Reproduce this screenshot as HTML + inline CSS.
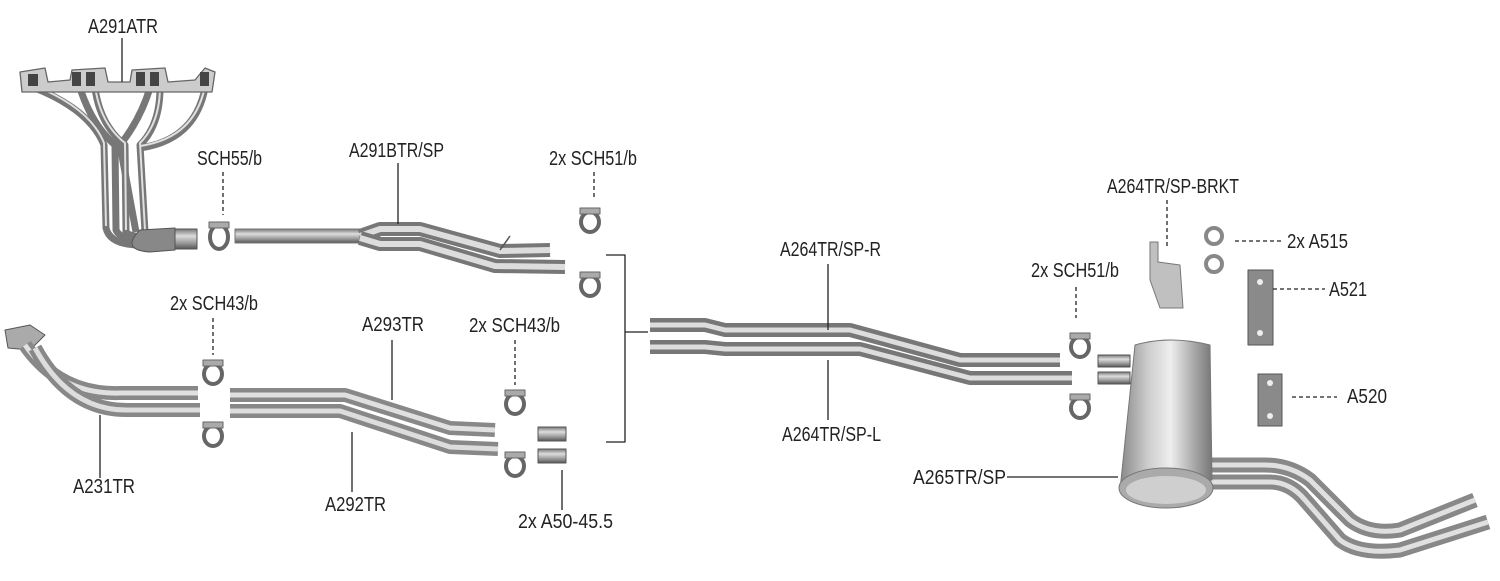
<!DOCTYPE html>
<html><head><meta charset="utf-8"><style>
html,body{margin:0;padding:0;background:#fff;}
svg{display:block;}
text{font-family:"Liberation Sans Narrow","Liberation Sans",sans-serif;font-size:20px;fill:#222;}
</style></head><body>
<svg width="1500" height="581" viewBox="0 0 1500 581" xmlns="http://www.w3.org/2000/svg">
<defs>
<linearGradient id="pv" x1="0" y1="0" x2="0" y2="1">
<stop offset="0" stop-color="#777"/><stop offset="0.35" stop-color="#ddd"/><stop offset="0.7" stop-color="#999"/><stop offset="1" stop-color="#555"/></linearGradient>
<linearGradient id="mh" x1="0" y1="0" x2="1" y2="0">
<stop offset="0" stop-color="#888"/><stop offset="0.3" stop-color="#ccc"/><stop offset="0.55" stop-color="#eee"/><stop offset="0.8" stop-color="#aaa"/><stop offset="1" stop-color="#777"/></linearGradient>
</defs>
<g fill="none" stroke-linecap="butt" stroke-linejoin="round">
<!-- header -->
<g stroke="#777" stroke-width="7">
<path d="M35 88 Q90 110 104 145 L106 228 Q110 245 140 245"/>
<path d="M80 88 Q92 125 115 145 L116 230 Q120 240 145 240"/>
<path d="M95 88 Q100 125 125 145 L126 232 Q130 238 150 236"/>
<path d="M150 88 Q140 120 120 145 L136 232"/>
<path d="M160 88 Q160 125 140 145 L145 232"/>
<path d="M205 88 Q195 140 140 148"/>
</g>
<g stroke="#e0e0e0" stroke-width="2">
<path d="M35 86 Q90 108 104 143 L106 226"/>
<path d="M95 86 Q100 123 125 143 L126 230"/>
<path d="M205 86 Q195 138 140 146"/>
<path d="M160 86 Q160 123 140 143 L145 230"/>
</g>
<path d="M20 72 L45 68 L48 82 L70 80 L72 70 L105 68 L108 82 L130 82 L132 70 L165 68 L168 82 L195 80 L205 68 L215 72 L212 92 L22 92 Z" fill="#ccc" stroke="#666" stroke-width="1.3"/>
<g fill="#444" stroke="none"><rect x="28" y="74" width="10" height="12"/><rect x="72" y="72" width="9" height="14"/><rect x="86" y="72" width="9" height="14"/><rect x="136" y="72" width="9" height="14"/><rect x="150" y="72" width="9" height="14"/><rect x="200" y="72" width="9" height="14"/></g>
<path d="M140 230 Q120 250 150 252 L175 250 L175 228 Z" fill="#888" stroke="#555"/>
<rect x="175" y="229" width="22" height="20" fill="url(#pv)" stroke="#555"/>
<!-- A291BTR pipe -->
<rect x="235" y="229" width="125" height="14" fill="url(#pv)" stroke="#777"/>
<path d="M360 236 L380 229 L420 229 L500 251 L550 250" stroke="#777" stroke-width="14"/>
<path d="M360 236 L380 229 L420 229 L500 251 L550 250" stroke="#ddd" stroke-width="6"/>
<path d="M360 238 L380 244 L420 244 L495 266 L565 267" stroke="#777" stroke-width="14"/>
<path d="M360 238 L380 244 L420 244 L495 266 L565 267" stroke="#ddd" stroke-width="6"/>
<path d="M500 250 L510 236" stroke="#555" stroke-width="1.5"/>
<!-- downpipe A231TR -->
<path d="M5 330 L30 325 L45 335 L30 350 L8 348 Z" fill="#aaa" stroke="#555"/>
<path d="M25 345 Q60 395 120 393 L198 393" stroke="#888" stroke-width="14"/>
<path d="M25 345 Q60 395 120 393 L198 393" stroke="#e0e0e0" stroke-width="5"/>
<path d="M35 348 Q70 412 130 410 L200 410" stroke="#888" stroke-width="14"/>
<path d="M35 348 Q70 412 130 410 L200 410" stroke="#ddd" stroke-width="5"/>
<!-- A293/A292 -->
<path d="M230 395 L345 395 L450 428 L495 430" stroke="#888" stroke-width="14"/>
<path d="M230 395 L345 395 L450 428 L495 430" stroke="#e0e0e0" stroke-width="5"/>
<path d="M230 411 L340 411 L450 447 L498 449" stroke="#888" stroke-width="14"/>
<path d="M230 411 L340 411 L450 447 L498 449" stroke="#ddd" stroke-width="5"/>
<!-- sleeves -->
<rect x="538" y="427" width="28" height="14" fill="url(#pv)" stroke="#555"/>
<rect x="538" y="449" width="28" height="14" fill="url(#pv)" stroke="#555"/>
<!-- center pipes -->
<path d="M650 325 L705 325 L725 330 L850 330 L960 360 L1060 360" stroke="#777" stroke-width="14"/>
<path d="M650 325 L705 325 L725 330 L850 330 L960 360 L1060 360" stroke="#ddd" stroke-width="5"/>
<path d="M650 347 L705 347 L725 349 L860 349 L970 378 L1072 378" stroke="#777" stroke-width="14"/>
<path d="M650 347 L705 347 L725 349 L860 349 L970 378 L1072 378" stroke="#ddd" stroke-width="5"/>
<!-- muffler -->
<rect x="1098" y="355" width="32" height="12" fill="url(#pv)" stroke="#555"/>
<rect x="1098" y="372" width="32" height="12" fill="url(#pv)" stroke="#555"/>
<path d="M1210 465 L1265 465 Q1290 465 1310 480 L1350 520 Q1370 535 1400 530 L1475 500" stroke="#888" stroke-width="15"/>
<path d="M1210 465 L1265 465 Q1290 465 1310 480 L1350 520 Q1370 535 1400 530 L1475 500" stroke="#e0e0e0" stroke-width="5"/>
<path d="M1210 482 L1270 482 Q1290 482 1305 500 L1340 540 Q1360 555 1400 550 L1488 522" stroke="#888" stroke-width="15"/>
<path d="M1210 482 L1270 482 Q1290 482 1305 500 L1340 540 Q1360 555 1400 550 L1488 522" stroke="#e0e0e0" stroke-width="5"/>
<path d="M1135 345 Q1170 335 1210 345 L1212 480 L1120 490 Z" fill="url(#mh)" stroke="#777"/>
<ellipse cx="1166" cy="488" rx="47" ry="20" fill="#aaa" stroke="#777"/>
<ellipse cx="1166" cy="490" rx="40" ry="14" fill="#cfcfcf"/>
<!-- clamps -->
<g stroke="#666" stroke-width="4" fill="#fff">
<ellipse cx="219" cy="237" rx="9" ry="12"/>
<ellipse cx="590" cy="222" rx="9" ry="10"/>
<ellipse cx="590" cy="286" rx="9" ry="10"/>
<ellipse cx="213" cy="374" rx="9" ry="10"/>
<ellipse cx="213" cy="436" rx="9" ry="10"/>
<ellipse cx="515" cy="404" rx="9" ry="10"/>
<ellipse cx="515" cy="466" rx="9" ry="10"/>
<ellipse cx="1080" cy="347" rx="9" ry="10"/>
<ellipse cx="1080" cy="408" rx="9" ry="10"/>
</g>
<g fill="#aaa" stroke="#666">
<rect x="209" y="222" width="20" height="6"/><rect x="580" y="208" width="20" height="6"/><rect x="580" y="272" width="20" height="6"/>
<rect x="203" y="360" width="20" height="6"/><rect x="203" y="422" width="20" height="6"/><rect x="505" y="390" width="20" height="6"/>
<rect x="505" y="452" width="20" height="6"/><rect x="1070" y="333" width="20" height="6"/><rect x="1070" y="394" width="20" height="6"/>
</g>
<!-- brackets -->
<path d="M1150 242 L1158 242 L1158 262 L1180 265 L1183 308 L1160 308 L1150 280 Z" fill="#c0c0c0" stroke="#777"/>
<g stroke="#888" stroke-width="4" fill="#fff"><ellipse cx="1214" cy="236" rx="8" ry="8"/><ellipse cx="1214" cy="264" rx="8" ry="8"/></g>
<rect x="1248" y="270" width="25" height="75" fill="#8a8a8a" stroke="#555"/>
<rect x="1258" y="374" width="24" height="52" fill="#8a8a8a" stroke="#555"/>
<g fill="#eee" stroke="none"><circle cx="1260" cy="282" r="3"/><circle cx="1260" cy="333" r="3"/><circle cx="1270" cy="383" r="3"/><circle cx="1270" cy="416" r="3"/></g>
<!-- leader lines -->
<g stroke="#222" stroke-width="1.3">
<path d="M122 38 V82 M398 163 V224 M392 340 V400 M100 415 V478 M352 432 V492 M562 470 V510 M828 264 V330 M828 360 V420 M1007 477 H1118 M606 255 H625 V442 H606 M625 332 H648"/>
</g>
<g stroke="#222" stroke-width="1.3" stroke-dasharray="4 3">
<path d="M223 172 V215 M594 172 V198 M213 318 V355 M515 340 V385 M1076 287 V318 M1167 200 V248 M1235 241 H1282 M1273 289 H1325 M1292 397 H1337"/>
</g>
</g>
<g lengthAdjust="spacingAndGlyphs">
<text x="88" y="33" textLength="70" lengthAdjust="spacingAndGlyphs">A291ATR</text>
<text x="197" y="165" textLength="65" lengthAdjust="spacingAndGlyphs">SCH55/b</text>
<text x="349" y="157" textLength="95" lengthAdjust="spacingAndGlyphs">A291BTR/SP</text>
<text x="549" y="165" textLength="88" lengthAdjust="spacingAndGlyphs">2x SCH51/b</text>
<text x="170" y="310" textLength="88" lengthAdjust="spacingAndGlyphs">2x SCH43/b</text>
<text x="362" y="331" textLength="62" lengthAdjust="spacingAndGlyphs">A293TR</text>
<text x="469" y="332" textLength="91" lengthAdjust="spacingAndGlyphs">2x SCH43/b</text>
<text x="73" y="493" textLength="62" lengthAdjust="spacingAndGlyphs">A231TR</text>
<text x="325" y="511" textLength="61" lengthAdjust="spacingAndGlyphs">A292TR</text>
<text x="518" y="528" textLength="95" lengthAdjust="spacingAndGlyphs">2x A50-45.5</text>
<text x="780" y="256" textLength="101" lengthAdjust="spacingAndGlyphs">A264TR/SP-R</text>
<text x="782" y="441" textLength="99" lengthAdjust="spacingAndGlyphs">A264TR/SP-L</text>
<text x="1031" y="277" textLength="88" lengthAdjust="spacingAndGlyphs">2x SCH51/b</text>
<text x="1107" y="193" textLength="132" lengthAdjust="spacingAndGlyphs">A264TR/SP-BRKT</text>
<text x="1287" y="248" textLength="61" lengthAdjust="spacingAndGlyphs">2x A515</text>
<text x="1329" y="296" textLength="38" lengthAdjust="spacingAndGlyphs">A521</text>
<text x="1347" y="403" textLength="40" lengthAdjust="spacingAndGlyphs">A520</text>
<text x="913" y="484" textLength="93" lengthAdjust="spacingAndGlyphs">A265TR/SP</text>
</g>
</svg>
</body></html>
